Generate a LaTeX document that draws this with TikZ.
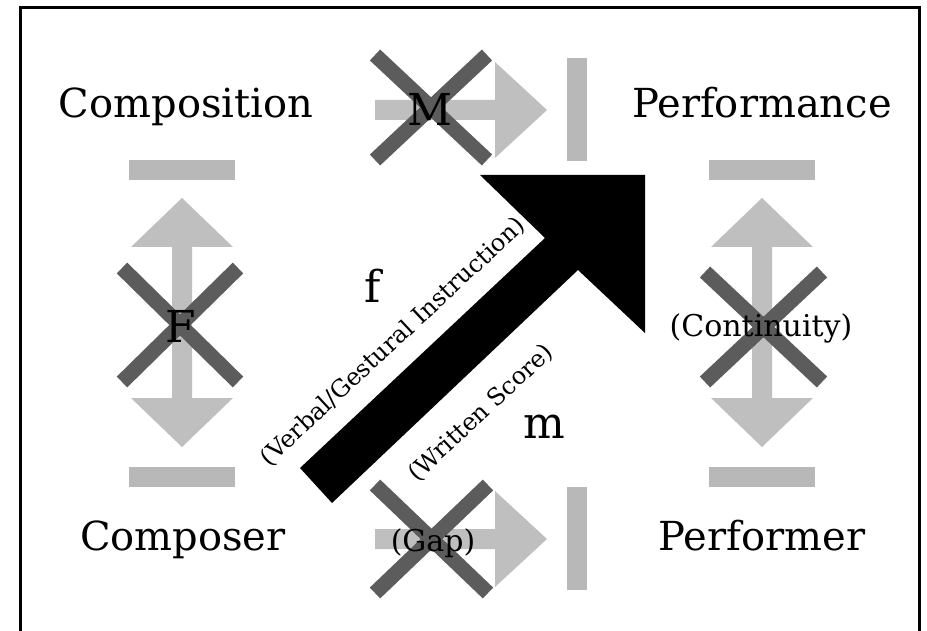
\documentclass[tikz,border=0pt]{standalone}
\usepackage{fontspec}
\setmainfont{DejaVu Serif}
\begin{document}
\begin{tikzpicture}[x=1pt,y=-1pt,
  lightgray/.style={fill=black!25, draw=none},
  barcol/.style={fill=black!28, draw=none},
  cross/.style={draw=black!64, line width=15pt, line cap=butt},
  biglabel/.style={font=\fontsize{40}{42}\selectfont, inner sep=0pt, anchor=base},
  letter/.style={font=\fontsize{44}{46}\selectfont, inner sep=0pt, anchor=base},
  smalllabel/.style={font=\fontsize{30}{32}\selectfont, inner sep=0pt, anchor=base},
  diaglabel/.style={font=\fontsize{24}{26}\selectfont, inner sep=0pt, rotate=43}]
\useasboundingbox (0,0) rectangle (927,631);
\fill[white] (0,0) rectangle (927,631);
\begin{scope}
\clip (0,0) rectangle (927,631);
\draw[line width=3pt] (20,8) rectangle (919,650);
\end{scope}

% horizontal gray arrows with stop bars
\foreach \cy in {110,539}{
  \fill[lightgray] (375,\cy-10) -- (495,\cy-10) -- (495,\cy-48) -- (547,\cy)
     -- (495,\cy+48) -- (495,\cy+10) -- (375,\cy+10) -- cycle;
  \fill[barcol] (567,\cy-52) rectangle (587,\cy+51);
}

% vertical double gray arrows with stop bars
\foreach \cx in {182,762}{
  \fill[lightgray] (\cx,198) -- (\cx+51,247) -- (\cx+10,247) -- (\cx+10,398)
     -- (\cx+51,398) -- (\cx,447) -- (\cx-51,398) -- (\cx-10,398)
     -- (\cx-10,247) -- (\cx-51,247) -- cycle;
  \fill[barcol] (\cx-53,160) rectangle (\cx+53,180);
  \fill[barcol] (\cx-53,467) rectangle (\cx+53,487);
}

% crossing marks
\draw[cross] (375,55) -- (487,160) (487,55) -- (375,160);
\draw[cross] (375,485) -- (488,593) (488,485) -- (375,593);
\draw[cross] (122,268) -- (238,382) (238,268) -- (122,382);
\draw[cross] (705,272) -- (822,382) (822,272) -- (705,382);

% main black arrow
\fill[black] (300,468) -- (545,238) -- (480,175) -- (645,175) -- (645,333)
   -- (578,270) -- (332,503) -- cycle;

% corner labels
\node[biglabel] (composition) at (186,118) {Composition};
\node[biglabel] (performance) at (762,118) {Performance};
\node[biglabel] (composer) at (183,550) {Composer};
\node[biglabel] (performer) at (762,550) {Performer};

% letters
\node[letter] (bigM) at (430,126) {M};
\node[letter] (bigF) at (181,342) {F};
\node[letter] (smallf) at (373,303) {f};
\node[letter] (smallm) at (544,438) {m};

% other labels
\node[smalllabel] (continuity) at (761,337) {(Continuity)};
\node[smalllabel] (gap) at (433,551) {(Gap)};
\node[diaglabel] (verbal) at (393,342) {(Verbal/Gestural Instruction)};
\node[diaglabel] (written) at (481,413) {(Written Score)};
\end{tikzpicture}
\end{document}
